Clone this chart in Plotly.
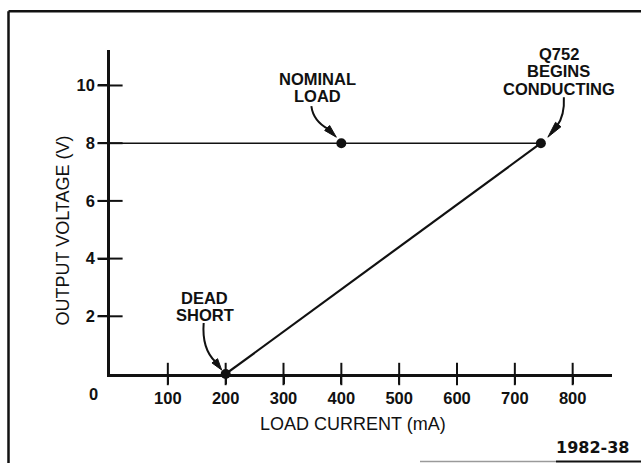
import plotly.graph_objects as go

# Foldback current limiting: output voltage against load current
point_current = [200, 400, 745]      # dead short, nominal load, Q752 begins conducting
point_voltage = [0, 8, 8]
regulated_current = [0, 745]         # flat regulated region at 8 V
regulated_voltage = [8, 8]
foldback_current = [200, 745]        # foldback slope down to the dead short
foldback_voltage = [0, 8]

x_tickvals = [100, 200, 300, 400, 500, 600, 700, 800]
y_tickvals = [2, 4, 6, 8, 10]
x_range = [0, 868]
y_range = [0, 11.23]

W, H = 641, 463
ML, MR, MT, MB = 110, 29, 50, 89
PW, PH = W - ML - MR, H - MT - MB


def px(x):
    return (x - ML) / PW


def py(y):
    return 1 - (y - MT) / PH


INK = "#111111"
TICK_FONT = dict(family="Liberation Sans, Arial, sans-serif", size=16.5, color=INK, weight="bold")
CALLOUT_FONT = dict(family="Liberation Sans, Arial, sans-serif", size=16.5, color=INK, weight="bold")
TITLE_FONT = dict(family="Liberation Sans, Arial, sans-serif", size=18, color=INK)

fig = go.Figure()
fig.add_trace(go.Scatter(x=regulated_current, y=regulated_voltage, mode="lines",
                         line=dict(color=INK, width=1.4), cliponaxis=False, hoverinfo="skip"))
fig.add_trace(go.Scatter(x=foldback_current, y=foldback_voltage, mode="lines",
                         line=dict(color=INK, width=2.2), cliponaxis=False, hoverinfo="skip"))

# tick marks that cross the axis lines
fig.add_trace(go.Scatter(x=x_tickvals, y=[0] * len(x_tickvals), mode="markers",
                         marker=dict(symbol="line-ns", size=16, line=dict(color=INK, width=2)),
                         cliponaxis=False, hoverinfo="skip"))
fig.add_trace(go.Scatter(x=[0] * len(y_tickvals), y=y_tickvals, mode="markers",
                         marker=dict(symbol="line-ew", size=18, line=dict(color=INK, width=2)),
                         cliponaxis=False, hoverinfo="skip"))

fig.add_trace(go.Scatter(x=point_current, y=point_voltage, mode="markers",
                         marker=dict(color=INK, size=10), cliponaxis=False, hoverinfo="skip"))

axis_common = dict(showgrid=False, zeroline=False, tickcolor=INK, tickwidth=2,
                   showline=True, linecolor=INK, linewidth=2.5, tickfont=TICK_FONT)
fig.update_layout(
    width=W, height=H, margin=dict(l=ML, r=MR, t=MT, b=MB),
    paper_bgcolor="white", plot_bgcolor="white", showlegend=False,
    xaxis=dict(range=x_range, tickvals=x_tickvals, ticks="outside", ticklen=7, **axis_common),
    yaxis=dict(range=y_range, tickvals=y_tickvals, ticks="outside", ticklen=9, **axis_common),
)

# origin label sits off the corner
fig.add_annotation(x=0, y=0, text="0", showarrow=False, xshift=-17, yshift=-19.5, font=TICK_FONT)

# callout text, one line per annotation, offset from its point in pixels
callouts = [
    (400, 8, ["NOMINAL", "LOAD"], -24, [64.6, 47.4]),
    (745, 8, ["Q752", "BEGINS", "CONDUCTING"], 18, [89.4, 72, 54.6]),
    (200, 0, ["DEAD", "SHORT"], -21, [76.0, 58.8]),
]
for cx, cy, lines, dx, dys in callouts:
    for line, dy in zip(lines, dys):
        fig.add_annotation(x=cx, y=cy, text=line, showarrow=False, xshift=dx, yshift=dy,
                           xanchor="center", yanchor="middle", font=CALLOUT_FONT)

# curved pointer arrows: tail, control, head base, tip (pixel offsets, screen y down)
pointers = [
    (400, 8, (-30, -37), (-28, -22), (-13, -14), (-5, -6)),
    (745, 8, (23, -46), (24, -28), (16, -17), (7, -6)),
    (200, 0, (-22, -51), (-24, -25), (-10, -12), (-4, -4)),
]
for ax_, ay_, s, c, b, t in pointers:
    shaft = f"M {s[0]},{-s[1]} Q {c[0]},{-c[1]} {b[0]},{-b[1]}"
    fig.add_shape(type="path", xref="x", yref="y", xsizemode="pixel", ysizemode="pixel",
                  xanchor=ax_, yanchor=ay_, path=shaft, line=dict(color=INK, width=2))
    dxh, dyh = t[0] - b[0], t[1] - b[1]
    n = (dxh ** 2 + dyh ** 2) ** 0.5
    nx, ny = -dyh / n * 3.5, dxh / n * 3.5
    bx, by = b[0] - dxh * 0.15, b[1] - dyh * 0.15
    head = (f"M {bx + nx},{-(by + ny)} L {t[0]},{-t[1]} L {bx - nx},{-(by - ny)} Z")
    fig.add_shape(type="path", xref="x", yref="y", xsizemode="pixel", ysizemode="pixel",
                  xanchor=ax_, yanchor=ay_, path=head, line=dict(color=INK, width=1),
                  fillcolor=INK)

# axis titles
fig.add_annotation(xref="paper", yref="paper", x=px(353), y=py(424), text="LOAD CURRENT (mA)",
                   showarrow=False, xanchor="center", yanchor="middle", font=TITLE_FONT)
fig.add_annotation(xref="paper", yref="paper", x=px(62.5), y=py(231), text="OUTPUT VOLTAGE (V)",
                   showarrow=False, textangle=-90, xanchor="center", yanchor="middle", font=TITLE_FONT)

# figure number
fig.add_annotation(xref="paper", yref="paper", x=px(631), y=py(447.5), text="1982-38",
                   showarrow=False, xanchor="right", yanchor="middle",
                   font=dict(family="DejaVu Sans, sans-serif", size=16, color=INK, weight="bold"))

# frame around the figure
frame = [
    (8.5, 11.3, 8.5, 463, INK, 2.5),
    (8.5, 11.3, 641, 11.3, INK, 2.5),
    (420, 461.5, 556, 461.5, "#9a9a9a", 1.5),
    (556, 461.5, 641, 461.5, INK, 2),
]
for x0, y0, x1, y1, col, w in frame:
    fig.add_shape(type="line", xref="paper", yref="paper", x0=px(x0), y0=py(y0), x1=px(x1), y1=py(y1),
                  line=dict(color=col, width=w))

fig.write_html("out.html")
